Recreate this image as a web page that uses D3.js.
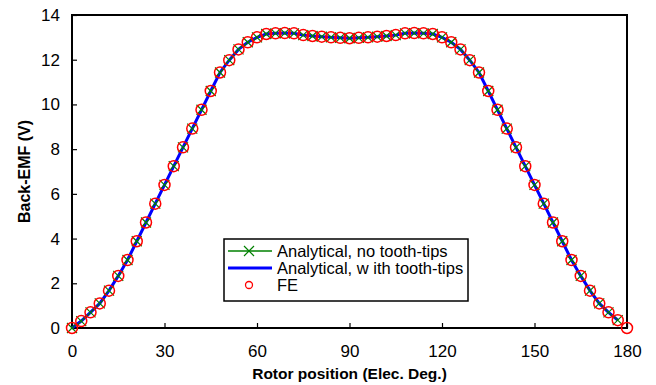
<!DOCTYPE html>
<html>
<head>
<meta charset="utf-8">
<script src="https://cdn.jsdelivr.net/npm/d3@7"></script>
<style>
    body { margin: 0; background: #fff; }
    svg { display: block; font-family: Arial, "Liberation Sans", sans-serif; }
</style>
</head>
<body>
<svg id="chart" width="656" height="385"></svg>
<script>
// rotor position, every 3 elec. deg
const angles = [0, 3, 6, 9, 12, 15, 18, 21, 24, 27, 30, 33, 36, 39, 42, 45, 48, 51, 54, 57,
    60, 63, 66, 69, 72, 75, 78, 81, 84, 87, 90, 93, 96, 99, 102, 105, 108, 111, 114, 117,
    120, 123, 126, 129, 132, 135, 138, 141, 144, 147, 150, 153, 156, 159, 162, 165, 168, 171, 174, 177, 180];

const noTips = [0, 0.31, 0.70, 1.10, 1.67, 2.33, 3.04, 3.88, 4.72, 5.56, 6.40, 7.24, 8.08, 8.92, 9.76, 10.60,
    11.43, 11.98, 12.46, 12.78, 13.00, 13.15, 13.18, 13.19, 13.18, 13.10, 13.06, 13.03, 13.00, 12.98, 12.96,
    12.98, 13.00, 13.03, 13.06, 13.10, 13.18, 13.19, 13.18, 13.15, 13.00, 12.78, 12.46, 11.98, 11.43, 10.60,
    9.76, 8.92, 8.08, 7.24, 6.40, 5.56, 4.72, 3.88, 3.04, 2.33, 1.67, 1.10, 0.70, 0.35];

const withTips = [0, 0.31, 0.70, 1.10, 1.67, 2.33, 3.04, 3.88, 4.72, 5.56, 6.40, 7.24, 8.08, 8.92, 9.76, 10.60,
    11.43, 11.98, 12.46, 12.78, 13.00, 13.15, 13.18, 13.19, 13.18, 13.10, 13.06, 13.03, 13.00, 12.98, 12.96,
    12.98, 13.00, 13.03, 13.06, 13.10, 13.18, 13.19, 13.18, 13.15, 13.00, 12.78, 12.46, 11.98, 11.43, 10.60,
    9.76, 8.92, 8.08, 7.24, 6.40, 5.56, 4.72, 3.88, 3.04, 2.33, 1.67, 1.10, 0.70, 0.35];

const fe = [0, 0.31, 0.70, 1.10, 1.67, 2.33, 3.04, 3.88, 4.72, 5.56, 6.40, 7.24, 8.08, 8.92, 9.76, 10.60,
    11.43, 11.98, 12.46, 12.78, 13.00, 13.15, 13.18, 13.19, 13.18, 13.10, 13.06, 13.03, 13.00, 12.98, 12.96,
    12.98, 13.00, 13.03, 13.06, 13.10, 13.18, 13.19, 13.18, 13.15, 13.00, 12.78, 12.46, 11.98, 11.43, 10.60,
    9.76, 8.92, 8.08, 7.24, 6.40, 5.56, 4.72, 3.88, 3.04, 2.33, 1.67, 1.10, 0.70, 0.35, 0];

const xTicks = [0, 30, 60, 90, 120, 150, 180];
const yTicks = [0, 2, 4, 6, 8, 10, 12, 14];

const legendLabels = ["Analytical, no tooth-tips", "Analytical, w ith tooth-tips", "FE"];

const margin = {top: 15, right: 29, bottom: 57, left: 72};
const svg = d3.select("#chart");
const width = +svg.attr("width");
const height = +svg.attr("height");

const x = d3.scaleLinear().domain([0, 180]).range([margin.left, width - margin.right]);
const y = d3.scaleLinear().domain([0, 14]).range([height - margin.bottom, margin.top]);

const toPts = vals => vals.map((v, i) => ({a: angles[i], v: v}));
const line = d3.line().x(d => x(d.a)).y(d => y(d.v));

// axes, ticks pointing inward
svg.append("g")
    .attr("transform", `translate(0,${y(0)})`)
    .call(d3.axisBottom(x).tickValues(xTicks).tickSizeInner(-5).tickSizeOuter(0).tickPadding(17))
    .call(g => g.select(".domain").remove())
    .call(g => g.selectAll("line").attr("stroke", "#000").attr("stroke-width", 1.2))
    .call(g => g.selectAll("text").attr("font-size", 17).attr("fill", "#000")
        .attr("font-family", "Arial, 'Liberation Sans', sans-serif"));

svg.append("g")
    .attr("transform", `translate(${x(0)},0)`)
    .call(d3.axisLeft(y).tickValues(yTicks).tickSizeInner(-5).tickSizeOuter(0).tickPadding(12))
    .call(g => g.select(".domain").remove())
    .call(g => g.selectAll("line").attr("stroke", "#000").attr("stroke-width", 1.2))
    .call(g => g.selectAll("text").attr("font-size", 17).attr("fill", "#000")
        .attr("font-family", "Arial, 'Liberation Sans', sans-serif"));

// box
svg.append("rect")
    .attr("x", x(0)).attr("y", y(14))
    .attr("width", x(180) - x(0)).attr("height", y(0) - y(14))
    .attr("fill", "none").attr("stroke", "#000").attr("stroke-width", 2);

// series
const ptsNo = toPts(noTips);
const ptsWith = toPts(withTips);
const ptsFe = toPts(fe);

svg.append("path").datum(ptsNo)
    .attr("d", line).attr("fill", "none").attr("stroke", "#008000").attr("stroke-width", 1.5);

svg.append("path").datum(ptsWith)
    .attr("d", line).attr("fill", "none").attr("stroke", "#0000ff").attr("stroke-width", 3);

const cross = d3.symbol().type(d3.symbolX).size(67);
svg.append("g").selectAll("path")
    .data(ptsNo)
    .join("path")
    .attr("transform", d => `translate(${x(d.a)},${y(d.v)})`)
    .attr("d", cross)
    .attr("fill", "none").attr("stroke", "#008000").attr("stroke-width", 1.2);

svg.append("g").selectAll("circle")
    .data(ptsFe)
    .join("circle")
    .attr("cx", d => x(d.a)).attr("cy", d => y(d.v)).attr("r", 5.5)
    .attr("fill", "none").attr("stroke", "#ff0000").attr("stroke-width", 1.5);

// legend
const lg = svg.append("g");
lg.append("rect")
    .attr("x", 224).attr("y", 239).attr("width", 244).attr("height", 62)
    .attr("fill", "#fff").attr("stroke", "#000").attr("stroke-width", 1.5);

const rows = [251, 268, 285];
lg.append("line").attr("x1", 228).attr("x2", 272).attr("y1", rows[0]).attr("y2", rows[0])
    .attr("stroke", "#008000").attr("stroke-width", 1.5);
lg.append("path").attr("transform", `translate(249,${rows[0]})`).attr("d", cross)
    .attr("fill", "none").attr("stroke", "#008000").attr("stroke-width", 1.2);
lg.append("line").attr("x1", 228).attr("x2", 272).attr("y1", rows[1]).attr("y2", rows[1])
    .attr("stroke", "#0000ff").attr("stroke-width", 3);
lg.append("circle").attr("cx", 249).attr("cy", rows[2]).attr("r", 3.5)
    .attr("fill", "none").attr("stroke", "#ff0000").attr("stroke-width", 1.3);

lg.selectAll("text")
    .data(legendLabels)
    .join("text")
    .attr("x", 277).attr("y", (d, i) => rows[i] + 5.5)
    .attr("font-size", 16.5).attr("fill", "#000")
    .text(d => d);

// axis titles
svg.append("text")
    .attr("x", (x(0) + x(180)) / 2).attr("y", 379)
    .attr("text-anchor", "middle").attr("font-size", 15.5).attr("font-weight", "bold")
    .text("Rotor position (Elec. Deg.)");

svg.append("text")
    .attr("transform", `translate(30,${(y(0) + y(14)) / 2}) rotate(-90)`)
    .attr("text-anchor", "middle").attr("font-size", 16).attr("font-weight", "bold")
    .text("Back-EMF (V)");
</script>
</body>
</html>
